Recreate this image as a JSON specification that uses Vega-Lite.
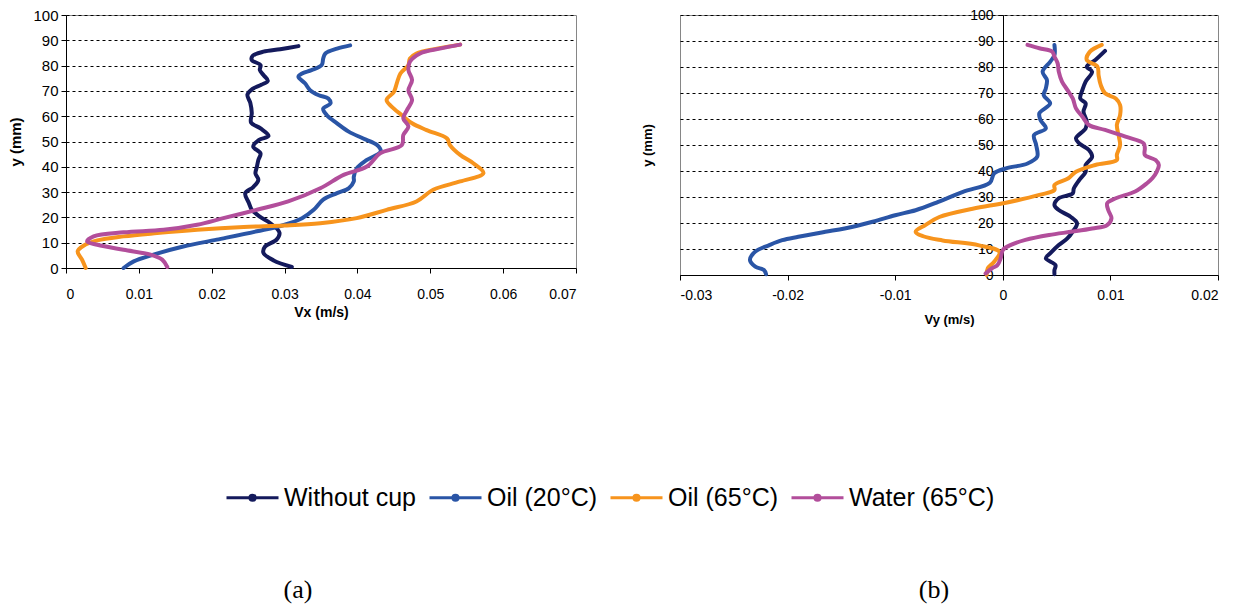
{
"$schema": "https://vega.github.io/schema/vega-lite/v6.json",
"background": "white",
"padding": {"left": 8, "top": 7, "right": 5, "bottom": 5},
"config": {
  "font": "Liberation Sans",
  "view": {"stroke": "#868686", "strokeWidth": 1},
  "axis": {"labelFont": "Liberation Sans", "titleFont": "Liberation Sans", "labelColor": "black", "titleColor": "black", "domainColor": "black", "tickColor": "black", "gridColor": "black", "gridDash": [3, 3], "gridWidth": 1, "domainWidth": 1, "tickWidth": 1, "titleFontWeight": "bold"}
},
"datasets": {
  "a": [
    {"s": "Without cup", "y": 0.4, "v": 0.0310}, {"s": "Without cup", "y": 3, "v": 0.0285}, {"s": "Without cup", "y": 6, "v": 0.0271}, {"s": "Without cup", "y": 8.4, "v": 0.0273}, {"s": "Without cup", "y": 11.2, "v": 0.0289}, {"s": "Without cup", "y": 14, "v": 0.0293}, {"s": "Without cup", "y": 17.8, "v": 0.0280}, {"s": "Without cup", "y": 20.3, "v": 0.0266}, {"s": "Without cup", "y": 23, "v": 0.0255}, {"s": "Without cup", "y": 25.7, "v": 0.0251}, {"s": "Without cup", "y": 29.5, "v": 0.0246}, {"s": "Without cup", "y": 32, "v": 0.0257}, {"s": "Without cup", "y": 34.8, "v": 0.0264}, {"s": "Without cup", "y": 37.4, "v": 0.0260}, {"s": "Without cup", "y": 40, "v": 0.0262}, {"s": "Without cup", "y": 42.7, "v": 0.0264}, {"s": "Without cup", "y": 45.3, "v": 0.0267}, {"s": "Without cup", "y": 48, "v": 0.0257}, {"s": "Without cup", "y": 50.6, "v": 0.0265}, {"s": "Without cup", "y": 52.2, "v": 0.0278}, {"s": "Without cup", "y": 55.2, "v": 0.0267}, {"s": "Without cup", "y": 57.5, "v": 0.0254}, {"s": "Without cup", "y": 61.2, "v": 0.0255}, {"s": "Without cup", "y": 65.2, "v": 0.0253}, {"s": "Without cup", "y": 68.5, "v": 0.0249}, {"s": "Without cup", "y": 70.8, "v": 0.0256}, {"s": "Without cup", "y": 72.4, "v": 0.0268}, {"s": "Without cup", "y": 74, "v": 0.0277}, {"s": "Without cup", "y": 76.3, "v": 0.0271}, {"s": "Without cup", "y": 78.3, "v": 0.0266}, {"s": "Without cup", "y": 80.2, "v": 0.0267}, {"s": "Without cup", "y": 82.2, "v": 0.0255}, {"s": "Without cup", "y": 83.8, "v": 0.0256}, {"s": "Without cup", "y": 85.5, "v": 0.0271}, {"s": "Without cup", "y": 86.5, "v": 0.0294}, {"s": "Without cup", "y": 87.7, "v": 0.0319},
    {"s": "Oil (20°C)", "y": 0, "v": 0.0079}, {"s": "Oil (20°C)", "y": 2.6, "v": 0.0093}, {"s": "Oil (20°C)", "y": 5.3, "v": 0.0120}, {"s": "Oil (20°C)", "y": 8.5, "v": 0.0161}, {"s": "Oil (20°C)", "y": 11.2, "v": 0.0207}, {"s": "Oil (20°C)", "y": 14.5, "v": 0.0262}, {"s": "Oil (20°C)", "y": 17, "v": 0.0299}, {"s": "Oil (20°C)", "y": 19.7, "v": 0.0324}, {"s": "Oil (20°C)", "y": 23, "v": 0.0340}, {"s": "Oil (20°C)", "y": 27, "v": 0.0353}, {"s": "Oil (20°C)", "y": 29.6, "v": 0.0372}, {"s": "Oil (20°C)", "y": 31.5, "v": 0.0388}, {"s": "Oil (20°C)", "y": 34.2, "v": 0.0395}, {"s": "Oil (20°C)", "y": 36, "v": 0.0395}, {"s": "Oil (20°C)", "y": 39.4, "v": 0.0399}, {"s": "Oil (20°C)", "y": 42.7, "v": 0.0413}, {"s": "Oil (20°C)", "y": 46, "v": 0.0432}, {"s": "Oil (20°C)", "y": 48.6, "v": 0.0427}, {"s": "Oil (20°C)", "y": 51.2, "v": 0.0408}, {"s": "Oil (20°C)", "y": 53.9, "v": 0.0388}, {"s": "Oil (20°C)", "y": 57.2, "v": 0.0372}, {"s": "Oil (20°C)", "y": 60.4, "v": 0.0358}, {"s": "Oil (20°C)", "y": 63, "v": 0.0353}, {"s": "Oil (20°C)", "y": 65, "v": 0.0363}, {"s": "Oil (20°C)", "y": 67, "v": 0.0360}, {"s": "Oil (20°C)", "y": 68.3, "v": 0.0347}, {"s": "Oil (20°C)", "y": 70.3, "v": 0.0335}, {"s": "Oil (20°C)", "y": 73, "v": 0.0328}, {"s": "Oil (20°C)", "y": 75.6, "v": 0.0319}, {"s": "Oil (20°C)", "y": 76.9, "v": 0.0324}, {"s": "Oil (20°C)", "y": 78.2, "v": 0.0337}, {"s": "Oil (20°C)", "y": 80.2, "v": 0.0351}, {"s": "Oil (20°C)", "y": 82.8, "v": 0.0353}, {"s": "Oil (20°C)", "y": 84.8, "v": 0.0356}, {"s": "Oil (20°C)", "y": 86.7, "v": 0.0372}, {"s": "Oil (20°C)", "y": 88, "v": 0.0390},
    {"s": "Oil (65°C)", "y": 0, "v": 0.0027}, {"s": "Oil (65°C)", "y": 3.3, "v": 0.0022}, {"s": "Oil (65°C)", "y": 6.6, "v": 0.0016}, {"s": "Oil (65°C)", "y": 8.8, "v": 0.0024}, {"s": "Oil (65°C)", "y": 10.9, "v": 0.0043}, {"s": "Oil (65°C)", "y": 12.5, "v": 0.0079}, {"s": "Oil (65°C)", "y": 13.8, "v": 0.0125}, {"s": "Oil (65°C)", "y": 15.1, "v": 0.0180}, {"s": "Oil (65°C)", "y": 16.2, "v": 0.0244}, {"s": "Oil (65°C)", "y": 16.8, "v": 0.0300}, {"s": "Oil (65°C)", "y": 17.7, "v": 0.0349}, {"s": "Oil (65°C)", "y": 19.7, "v": 0.0399}, {"s": "Oil (65°C)", "y": 23, "v": 0.0440}, {"s": "Oil (65°C)", "y": 26.3, "v": 0.0481}, {"s": "Oil (65°C)", "y": 30.9, "v": 0.0504}, {"s": "Oil (65°C)", "y": 34.2, "v": 0.0541}, {"s": "Oil (65°C)", "y": 37.5, "v": 0.0573}, {"s": "Oil (65°C)", "y": 41.4, "v": 0.0559}, {"s": "Oil (65°C)", "y": 44.7, "v": 0.0541}, {"s": "Oil (65°C)", "y": 48.6, "v": 0.0527}, {"s": "Oil (65°C)", "y": 51.2, "v": 0.0523}, {"s": "Oil (65°C)", "y": 54.5, "v": 0.0495}, {"s": "Oil (65°C)", "y": 57.2, "v": 0.0475}, {"s": "Oil (65°C)", "y": 60.4, "v": 0.0461}, {"s": "Oil (65°C)", "y": 63, "v": 0.0450}, {"s": "Oil (65°C)", "y": 66.4, "v": 0.0440}, {"s": "Oil (65°C)", "y": 69.6, "v": 0.0450}, {"s": "Oil (65°C)", "y": 73, "v": 0.0454}, {"s": "Oil (65°C)", "y": 76.9, "v": 0.0459}, {"s": "Oil (65°C)", "y": 80.2, "v": 0.0470}, {"s": "Oil (65°C)", "y": 82.8, "v": 0.0472}, {"s": "Oil (65°C)", "y": 84.8, "v": 0.0481}, {"s": "Oil (65°C)", "y": 86.7, "v": 0.0509}, {"s": "Oil (65°C)", "y": 88.3, "v": 0.0541},
    {"s": "Water (65°C)", "y": 0.4, "v": 0.0139}, {"s": "Water (65°C)", "y": 3.3, "v": 0.0132}, {"s": "Water (65°C)", "y": 5.3, "v": 0.0116}, {"s": "Water (65°C)", "y": 7.2, "v": 0.0079}, {"s": "Water (65°C)", "y": 9.2, "v": 0.0043}, {"s": "Water (65°C)", "y": 10.5, "v": 0.0029}, {"s": "Water (65°C)", "y": 12.5, "v": 0.0038}, {"s": "Water (65°C)", "y": 14.1, "v": 0.0079}, {"s": "Water (65°C)", "y": 15.1, "v": 0.0134}, {"s": "Water (65°C)", "y": 17.1, "v": 0.0180}, {"s": "Water (65°C)", "y": 19.7, "v": 0.0216}, {"s": "Water (65°C)", "y": 23, "v": 0.0262}, {"s": "Water (65°C)", "y": 26.3, "v": 0.0305}, {"s": "Water (65°C)", "y": 31.5, "v": 0.0349}, {"s": "Water (65°C)", "y": 36.8, "v": 0.0381}, {"s": "Water (65°C)", "y": 40.1, "v": 0.0413}, {"s": "Water (65°C)", "y": 45.3, "v": 0.0431}, {"s": "Water (65°C)", "y": 48.6, "v": 0.0461}, {"s": "Water (65°C)", "y": 52.6, "v": 0.0463}, {"s": "Water (65°C)", "y": 55.9, "v": 0.0470}, {"s": "Water (65°C)", "y": 59.1, "v": 0.0463}, {"s": "Water (65°C)", "y": 62.4, "v": 0.0468}, {"s": "Water (65°C)", "y": 66.4, "v": 0.0475}, {"s": "Water (65°C)", "y": 70.3, "v": 0.0470}, {"s": "Water (65°C)", "y": 74.3, "v": 0.0475}, {"s": "Water (65°C)", "y": 78.2, "v": 0.0470}, {"s": "Water (65°C)", "y": 81.5, "v": 0.0472}, {"s": "Water (65°C)", "y": 84.8, "v": 0.0486}, {"s": "Water (65°C)", "y": 86.7, "v": 0.0513}, {"s": "Water (65°C)", "y": 88.3, "v": 0.0541}
  ],
  "b": [
    {"s": "Without cup", "y": 0.3, "v": 0.0048}, {"s": "Without cup", "y": 1.9, "v": 0.0048}, {"s": "Without cup", "y": 3.8, "v": 0.0049}, {"s": "Without cup", "y": 6.4, "v": 0.0040}, {"s": "Without cup", "y": 8.3, "v": 0.0044}, {"s": "Without cup", "y": 11.5, "v": 0.0052}, {"s": "Without cup", "y": 14.1, "v": 0.0060}, {"s": "Without cup", "y": 16.7, "v": 0.0065}, {"s": "Without cup", "y": 19.9, "v": 0.0069}, {"s": "Without cup", "y": 22.4, "v": 0.0063}, {"s": "Without cup", "y": 25, "v": 0.0052}, {"s": "Without cup", "y": 26.9, "v": 0.0048}, {"s": "Without cup", "y": 29.5, "v": 0.0052}, {"s": "Without cup", "y": 31.4, "v": 0.0065}, {"s": "Without cup", "y": 33.3, "v": 0.0066}, {"s": "Without cup", "y": 36.5, "v": 0.0071}, {"s": "Without cup", "y": 39.7, "v": 0.0077}, {"s": "Without cup", "y": 42.3, "v": 0.0077}, {"s": "Without cup", "y": 45.5, "v": 0.0083}, {"s": "Without cup", "y": 48.1, "v": 0.0080}, {"s": "Without cup", "y": 50.6, "v": 0.0071}, {"s": "Without cup", "y": 52.6, "v": 0.0068}, {"s": "Without cup", "y": 56.4, "v": 0.0077}, {"s": "Without cup", "y": 59, "v": 0.0078}, {"s": "Without cup", "y": 62.8, "v": 0.0075}, {"s": "Without cup", "y": 66, "v": 0.0077}, {"s": "Without cup", "y": 67.9, "v": 0.0072}, {"s": "Without cup", "y": 71.2, "v": 0.0074}, {"s": "Without cup", "y": 74.4, "v": 0.0077}, {"s": "Without cup", "y": 78.2, "v": 0.0083}, {"s": "Without cup", "y": 80.1, "v": 0.0078}, {"s": "Without cup", "y": 82.7, "v": 0.0086}, {"s": "Without cup", "y": 86.2, "v": 0.0095},
    {"s": "Oil (20°C)", "y": 0.3, "v": -0.0220}, {"s": "Oil (20°C)", "y": 1.9, "v": -0.0222}, {"s": "Oil (20°C)", "y": 3.2, "v": -0.0230}, {"s": "Oil (20°C)", "y": 5.8, "v": -0.0235}, {"s": "Oil (20°C)", "y": 9, "v": -0.0230}, {"s": "Oil (20°C)", "y": 11.5, "v": -0.0217}, {"s": "Oil (20°C)", "y": 13.4, "v": -0.0205}, {"s": "Oil (20°C)", "y": 14.7, "v": -0.0190}, {"s": "Oil (20°C)", "y": 16.6, "v": -0.0165}, {"s": "Oil (20°C)", "y": 17.9, "v": -0.0147}, {"s": "Oil (20°C)", "y": 20.5, "v": -0.0121}, {"s": "Oil (20°C)", "y": 23, "v": -0.0100}, {"s": "Oil (20°C)", "y": 24.9, "v": -0.0081}, {"s": "Oil (20°C)", "y": 28.1, "v": -0.0060}, {"s": "Oil (20°C)", "y": 32, "v": -0.0037}, {"s": "Oil (20°C)", "y": 35.5, "v": -0.0012}, {"s": "Oil (20°C)", "y": 39.1, "v": -0.0008}, {"s": "Oil (20°C)", "y": 41, "v": 0.0003}, {"s": "Oil (20°C)", "y": 42.9, "v": 0.0023}, {"s": "Oil (20°C)", "y": 45.5, "v": 0.0032}, {"s": "Oil (20°C)", "y": 50, "v": 0.0031}, {"s": "Oil (20°C)", "y": 53.8, "v": 0.0029}, {"s": "Oil (20°C)", "y": 56.4, "v": 0.0040}, {"s": "Oil (20°C)", "y": 59.6, "v": 0.0035}, {"s": "Oil (20°C)", "y": 62.2, "v": 0.0034}, {"s": "Oil (20°C)", "y": 66, "v": 0.0044}, {"s": "Oil (20°C)", "y": 69.2, "v": 0.0038}, {"s": "Oil (20°C)", "y": 71.8, "v": 0.0040}, {"s": "Oil (20°C)", "y": 75, "v": 0.0041}, {"s": "Oil (20°C)", "y": 78.2, "v": 0.0037}, {"s": "Oil (20°C)", "y": 82, "v": 0.0044}, {"s": "Oil (20°C)", "y": 84.6, "v": 0.0048}, {"s": "Oil (20°C)", "y": 88.5, "v": 0.0048},
    {"s": "Oil (65°C)", "y": 0, "v": -0.0015}, {"s": "Oil (65°C)", "y": 2.5, "v": -0.0014}, {"s": "Oil (65°C)", "y": 5.1, "v": -0.0008}, {"s": "Oil (65°C)", "y": 8.8, "v": -0.0003}, {"s": "Oil (65°C)", "y": 11.4, "v": -0.0022}, {"s": "Oil (65°C)", "y": 13.3, "v": -0.0056}, {"s": "Oil (65°C)", "y": 14.9, "v": -0.0074}, {"s": "Oil (65°C)", "y": 16.6, "v": -0.0081}, {"s": "Oil (65°C)", "y": 19.2, "v": -0.0072}, {"s": "Oil (65°C)", "y": 22.3, "v": -0.0059}, {"s": "Oil (65°C)", "y": 25.5, "v": -0.0028}, {"s": "Oil (65°C)", "y": 27.8, "v": 0.0003}, {"s": "Oil (65°C)", "y": 30.8, "v": 0.0034}, {"s": "Oil (65°C)", "y": 32.7, "v": 0.0048}, {"s": "Oil (65°C)", "y": 34.6, "v": 0.0048}, {"s": "Oil (65°C)", "y": 37.2, "v": 0.0061}, {"s": "Oil (65°C)", "y": 39.7, "v": 0.0068}, {"s": "Oil (65°C)", "y": 42.3, "v": 0.0086}, {"s": "Oil (65°C)", "y": 44.2, "v": 0.0106}, {"s": "Oil (65°C)", "y": 46.2, "v": 0.0106}, {"s": "Oil (65°C)", "y": 50, "v": 0.0109}, {"s": "Oil (65°C)", "y": 53, "v": 0.0108}, {"s": "Oil (65°C)", "y": 57.7, "v": 0.0106}, {"s": "Oil (65°C)", "y": 61.5, "v": 0.0109}, {"s": "Oil (65°C)", "y": 65.4, "v": 0.0109}, {"s": "Oil (65°C)", "y": 67.9, "v": 0.0105}, {"s": "Oil (65°C)", "y": 69.9, "v": 0.0095}, {"s": "Oil (65°C)", "y": 73.1, "v": 0.0091}, {"s": "Oil (65°C)", "y": 76.9, "v": 0.0089}, {"s": "Oil (65°C)", "y": 80.1, "v": 0.0088}, {"s": "Oil (65°C)", "y": 82.7, "v": 0.0078}, {"s": "Oil (65°C)", "y": 85.9, "v": 0.0081}, {"s": "Oil (65°C)", "y": 88.5, "v": 0.0092},
    {"s": "Water (65°C)", "y": 0.6, "v": -0.0016}, {"s": "Water (65°C)", "y": 2.6, "v": -0.0010}, {"s": "Water (65°C)", "y": 3.8, "v": -0.0005}, {"s": "Water (65°C)", "y": 6.4, "v": -0.0002}, {"s": "Water (65°C)", "y": 9.6, "v": 0.0000}, {"s": "Water (65°C)", "y": 11.5, "v": 0.0007}, {"s": "Water (65°C)", "y": 13.5, "v": 0.0021}, {"s": "Water (65°C)", "y": 15.4, "v": 0.0043}, {"s": "Water (65°C)", "y": 16.7, "v": 0.0065}, {"s": "Water (65°C)", "y": 17.9, "v": 0.0083}, {"s": "Water (65°C)", "y": 19.2, "v": 0.0097}, {"s": "Water (65°C)", "y": 21.8, "v": 0.0101}, {"s": "Water (65°C)", "y": 25, "v": 0.0098}, {"s": "Water (65°C)", "y": 27.6, "v": 0.0097}, {"s": "Water (65°C)", "y": 29.5, "v": 0.0105}, {"s": "Water (65°C)", "y": 32.1, "v": 0.0123}, {"s": "Water (65°C)", "y": 35.3, "v": 0.0134}, {"s": "Water (65°C)", "y": 37.2, "v": 0.0139}, {"s": "Water (65°C)", "y": 39.7, "v": 0.0143}, {"s": "Water (65°C)", "y": 42.3, "v": 0.0145}, {"s": "Water (65°C)", "y": 44.2, "v": 0.0142}, {"s": "Water (65°C)", "y": 46.2, "v": 0.0132}, {"s": "Water (65°C)", "y": 48.7, "v": 0.0132}, {"s": "Water (65°C)", "y": 50.6, "v": 0.0131}, {"s": "Water (65°C)", "y": 53.2, "v": 0.0114}, {"s": "Water (65°C)", "y": 55.8, "v": 0.0095}, {"s": "Water (65°C)", "y": 57.7, "v": 0.0080}, {"s": "Water (65°C)", "y": 60.9, "v": 0.0074}, {"s": "Water (65°C)", "y": 64.1, "v": 0.0068}, {"s": "Water (65°C)", "y": 67.9, "v": 0.0065}, {"s": "Water (65°C)", "y": 71.2, "v": 0.0060}, {"s": "Water (65°C)", "y": 74.4, "v": 0.0055}, {"s": "Water (65°C)", "y": 78.2, "v": 0.0052}, {"s": "Water (65°C)", "y": 81.4, "v": 0.0051}, {"s": "Water (65°C)", "y": 84, "v": 0.0048}, {"s": "Water (65°C)", "y": 85.9, "v": 0.0046}, {"s": "Water (65°C)", "y": 87.2, "v": 0.0034}, {"s": "Water (65°C)", "y": 88.5, "v": 0.0023}
  ]
},
"spacing": 63,
"resolve": {"scale": {"color": "shared"}},
"hconcat": [
  {
    "width": 510, "height": 253,
    "data": {"name": "a"},
    "title": {"text": "(a)", "orient": "bottom", "offset": 258, "font": "Liberation Serif", "fontSize": 26, "fontWeight": "normal", "color": "black", "dx": -23},
    "mark": {"type": "line", "strokeWidth": 4, "interpolate": "catmull-rom", "strokeCap": "round", "strokeJoin": "round"},
    "encoding": {
      "x": {"field": "v", "type": "quantitative", "scale": {"domain": [0, 0.07], "nice": false, "zero": false},
        "axis": {"values": [0, 0.01, 0.02, 0.03, 0.04, 0.05, 0.06, 0.07], "labelExpr": "'' + round(datum.value*100)/100", "grid": false, "title": "Vx (m/s)", "labelFontSize": 14, "titleFontSize": 14, "tickSize": 5, "labelPadding": 14, "titlePadding": 4}},
      "y": {"field": "y", "type": "quantitative", "scale": {"domain": [0, 100], "nice": false},
        "axis": {"values": [0, 10, 20, 30, 40, 50, 60, 70, 80, 90, 100], "title": "y (mm)", "labelFontSize": 15, "titleFontSize": 15, "tickSize": 5, "labelPadding": 3, "titlePadding": 9, "grid": true}},
      "color": {"field": "s", "type": "nominal",
        "scale": {"domain": ["Without cup", "Oil (20°C)", "Oil (65°C)", "Water (65°C)"], "range": ["#141a5c", "#2a55a6", "#f7941d", "#b24e9b"]},
        "legend": {"orient": "none", "direction": "horizontal", "legendX": 159, "legendY": 455, "title": null, "labelFont": "Liberation Sans", "labelFontSize": 25, "labelColor": "black", "symbolType": "M-1,0H1M-0.1,0A0.1,0.1,0,1,1,0.1,0A0.1,0.1,0,1,1,-0.1,0", "symbolSize": 2704, "symbolStrokeWidth": 3, "labelOffset": 4, "columnPadding": 6,
          "encode": {"symbols": {"update": {"fill": {"scale": "color", "field": "value"}, "fillOpacity": {"value": 1}}}}}},
      "order": {"field": "y", "type": "quantitative"}
    }
  },
  {
    "width": 538, "height": 260,
    "data": {"name": "b"},
    "title": {"text": "(b)", "orient": "bottom", "offset": 251, "font": "Liberation Serif", "fontSize": 26, "fontWeight": "normal", "color": "black", "dx": -15},
    "mark": {"type": "line", "strokeWidth": 4, "interpolate": "catmull-rom", "strokeCap": "round", "strokeJoin": "round"},
    "encoding": {
      "x": {"field": "v", "type": "quantitative", "scale": {"domain": [-0.03, 0.02], "nice": false, "zero": false},
        "axis": {"values": [-0.03, -0.02, -0.01, 0, 0.01, 0.02], "labelExpr": "'' + round(datum.value*100)/100", "grid": false, "title": "Vy (m/s)", "labelFontSize": 14, "titleFontSize": 13, "tickSize": 5, "labelPadding": 8, "titlePadding": 11}},
      "y": {"field": "y", "type": "quantitative", "scale": {"domain": [0, 100], "nice": false},
        "axis": {"values": [0, 10, 20, 30, 40, 50, 60, 70, 80, 90, 100], "title": "y (mm)", "titleX": -349, "labelFontSize": 14, "titleFontSize": 13, "tickSize": 5, "labelPadding": 5, "offset": -323, "grid": true}},
      "color": {"field": "s", "type": "nominal"},
      "order": {"field": "y", "type": "quantitative"}
    }
  }
]
}
